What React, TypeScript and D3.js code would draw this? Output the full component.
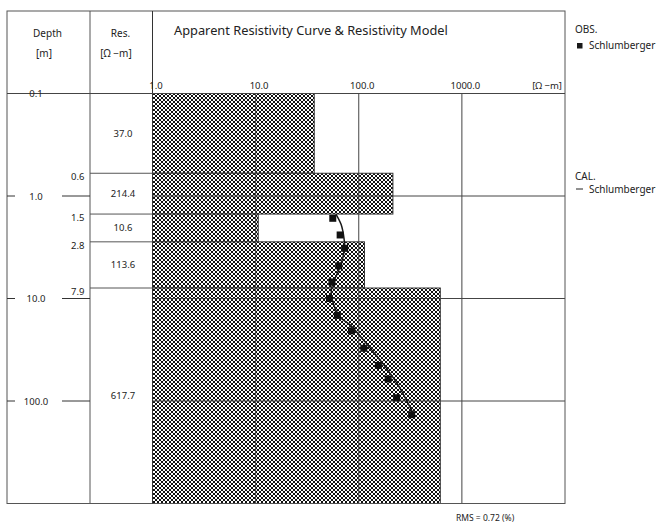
import React from 'react';
import * as d3 from 'd3';

// Resistivity model (layers)
const layerTops = [0.1, 0.6, 1.5, 2.8, 7.9];
const layerBottoms = [0.6, 1.5, 2.8, 7.9, 1000];
const layerRes = [37.0, 214.4, 10.6, 113.6, 617.7];
const boundaryDepths = [0.6, 1.5, 2.8, 7.9];

// Axis ticks
const depthTicks = [0.1, 1, 10, 100];
const resTicks = [1, 10, 100, 1000];

// Observed apparent resistivity (Schlumberger)
const obsAB = [1.65, 2.4, 3.24, 4.8, 6.9, 10, 14.6, 20.7, 30.6, 45, 61, 93, 136];
const obsRho = [56, 66, 73, 64, 55, 52, 62, 85, 112, 155, 193, 233, 326];

// Calculated curve
const calAB = [1.5, 1.9, 2.6, 3.2, 4.0, 5.5, 7.1, 8.9, 10, 13, 15.6, 18, 23, 33, 48, 70, 98, 132];
const calRho = [60, 67.5, 72, 73, 70, 63, 56, 54, 55, 60, 67.5, 82, 102, 138, 186, 241, 290, 337];

const rmsValue = 0.72;

const FONT = '"Noto Sans", "DejaVu Sans", sans-serif';

// crosshatch cells of a 4x4 tile (black pixels forming an X)
const hatchCells = [
  [0, 0], [1, 1], [2, 2], [3, 3],
  [3, 0], [2, 1], [1, 2], [0, 3],
];

export default function App() {
  const W = 657, H = 524;
  const left = 7, top = 11, right = 565, headerBottom = 93.5, bottom = 503.5;
  const col1 = 90, col2 = 152.5;
  const x = d3.scaleLog().domain([1, 10000]).range([col2, right]);
  const y = d3.scaleLog().domain([0.1, 1000]).range([headerBottom, bottom]);
  const calIdx = d3.range(calAB.length);
  const line = d3
    .line<number>()
    .x((i) => x(calRho[i]))
    .y((i) => y(calAB[i]))
    .curve(d3.curveCatmullRom.alpha(0.5));
  const lineColor = '#444';
  const txt = '#222';
  const sq = 7;

  return (
    <svg
      width={W}
      height={H}
      style={{ position: 'absolute', left: 0, top: 0, background: '#fff' }}
      fontFamily={FONT}
    >
      <defs>
        <pattern id="hatch" patternUnits="userSpaceOnUse" x={0} y={0} width={4} height={4}>
          <rect width={4} height={4} fill="#fff" />
          {hatchCells.map(([cx, cy], i) => (
            <rect key={i} x={cx} y={cy} width={1} height={1} fill="#111" shapeRendering="crispEdges" />
          ))}
        </pattern>
      </defs>

      {/* model bars */}
      {layerRes.map((r, i) => (
        <rect
          key={'bar' + i}
          x={x(1)}
          y={y(layerTops[i])}
          width={x(r) - x(1)}
          height={y(layerBottoms[i]) - y(layerTops[i])}
          fill="url(#hatch)"
          stroke="#333"
          strokeWidth={1}
        />
      ))}

      {/* grid lines in plot */}
      {resTicks.slice(1).map((v) => (
        <line key={'vx' + v} x1={x(v)} x2={x(v)} y1={headerBottom} y2={bottom} stroke={lineColor} strokeWidth={1} />
      ))}
      {depthTicks.slice(1).map((v) => (
        <line key={'hy' + v} x1={col2} x2={right} y1={y(v)} y2={y(v)} stroke={lineColor} strokeWidth={1} />
      ))}

      {/* frame */}
      <rect x={left} y={top} width={right - left} height={bottom - top} fill="none" stroke="#555" strokeWidth={1} />
      <line x1={col1} x2={col1} y1={top} y2={bottom} stroke="#555" />
      <line x1={col2} x2={col2} y1={top} y2={bottom} stroke="#333" />
      <line x1={left} x2={right} y1={headerBottom} y2={headerBottom} stroke="#444" />

      {/* header */}
      <g fill={txt} fontSize={10}>
        <text x={47.5} y={37} textAnchor="middle">Depth</text>
        <text x={44} y={57} textAnchor="middle">[m]</text>
        <text x={120.5} y={37} textAnchor="middle">Res.</text>
        <text x={116} y={57} textAnchor="middle">[Ω −m]</text>
        <text x={174} y={35} fontSize={12.8}>Apparent Resistivity Curve &amp; Resistivity Model</text>
        {resTicks.map((v) => (
          <text key={'xt' + v} x={x(v) + 3.5} y={89} textAnchor="middle" fontSize={9.5}>
            {v.toFixed(1)}
          </text>
        ))}
        <text x={562} y={89} textAnchor="end" fontSize={9.5}>[Ω −m]</text>
      </g>

      {/* depth ticks */}
      {depthTicks.map((v, i) => (
        <g key={'dt' + v}>
          {i > 0 && (
            <>
              <line x1={left} x2={15} y1={y(v)} y2={y(v)} stroke="#333" />
              <line x1={62} x2={col1} y1={y(v)} y2={y(v)} stroke="#333" />
            </>
          )}
          <text x={36} y={y(v) + 3.5} textAnchor="middle" fontSize={9.5} fill={txt}>
            {v.toFixed(1)}
          </text>
        </g>
      ))}

      {/* layer boundaries in Res column */}
      {boundaryDepths.map((d) => (
        <g key={'bd' + d}>
          <line x1={col1} x2={col2} y1={y(d)} y2={y(d)} stroke="#555" />
          <text x={84.5} y={y(d) + 7} textAnchor="end" fontSize={9.5} fill={txt}>
            {d.toFixed(1)}
          </text>
        </g>
      ))}

      {/* layer resistivity labels */}
      {layerRes.map((r, i) => (
        <text
          key={'rl' + i}
          x={123}
          y={(y(layerTops[i]) + y(layerBottoms[i])) / 2 + 3.5}
          textAnchor="middle"
          fontSize={9.5}
          fill={txt}
        >
          {r.toFixed(1)}
        </text>
      ))}

      {/* calculated curve */}
      <path d={line(calIdx) || ''} fill="none" stroke="#1a1a1a" strokeWidth={1.5} />

      {/* observed points */}
      {obsAB.map((a, i) => (
        <rect
          key={'ob' + i}
          x={x(obsRho[i]) - sq / 2}
          y={y(a) - sq / 2}
          width={sq}
          height={sq}
          fill="#111"
        />
      ))}

      {/* legend */}
      <g fill={txt} fontSize={10}>
        <text x={575} y={33}>OBS.</text>
        <rect x={577} y={43} width={5.5} height={5.5} fill="#1a1a1a" />
        <text x={589} y={49}>Schlumberger</text>
        <text x={575} y={180}>CAL.</text>
        <line x1={576} x2={583} y1={189} y2={189} stroke="#222" strokeWidth={1} />
        <text x={589} y={192.5}>Schlumberger</text>
      </g>

      {/* RMS */}
      <text x={456} y={521} fontSize={8.5} fill={txt}>
        {'RMS =  ' + rmsValue.toFixed(2) + ' (%)'}
      </text>
    </svg>
  );
}
